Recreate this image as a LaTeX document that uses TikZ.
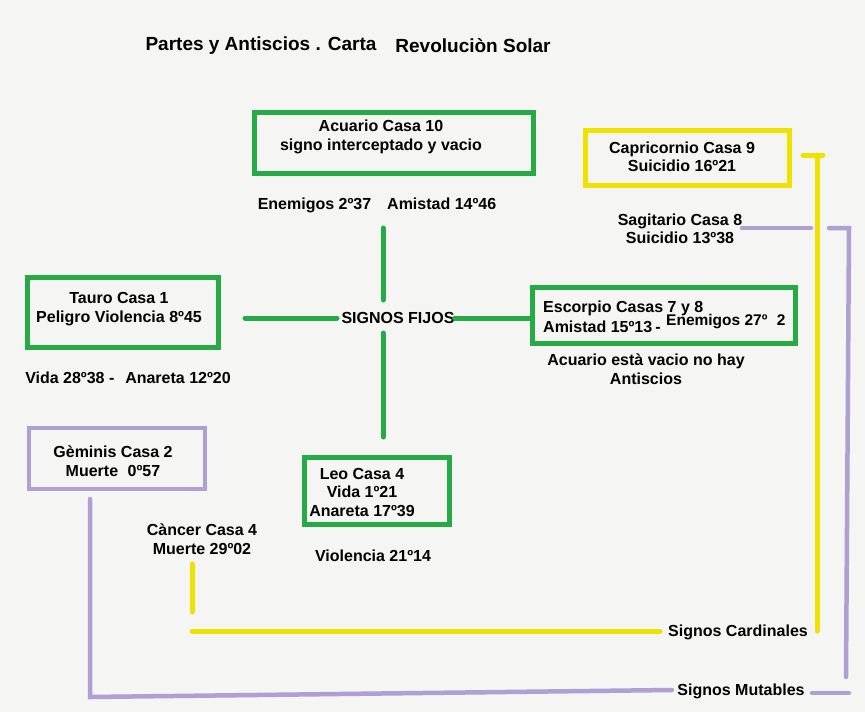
\documentclass[tikz,border=0pt]{standalone}
\usepackage{fontspec}
\setmainfont{Liberation Sans}
\definecolor{bgcol}{RGB}{245,245,243}
\definecolor{gcol}{RGB}{38,170,70}
\definecolor{ycol}{RGB}{240,226,0}
\definecolor{pcol}{RGB}{174,160,210}
\begin{document}
\begin{tikzpicture}[x=1pt,y=-1pt,
  txt/.style={font=\bfseries\fontsize{16}{18.5}\selectfont, align=center, inner sep=0pt, text=black},
  ttl/.style={font=\bfseries\fontsize{19}{22}\selectfont, inner sep=0pt},
  boxg/.style={draw=gcol, line width=5pt, inner sep=0pt},
  boxy/.style={draw=ycol, line width=5pt, inner sep=0pt},
  boxp/.style={draw=pcol, line width=4.5pt, inner sep=0pt},
  gline/.style={draw=gcol, line width=5pt, line cap=round},
  yline/.style={draw=ycol, line width=5pt, line cap=round},
  pline/.style={draw=pcol, line width=4.5pt, line cap=round}]
\fill[bgcol] (0,0) rectangle (865,712);
\useasboundingbox (0,0) rectangle (865,712);

% title
\node[ttl] (t1) at (261,46) {Partes y Antiscios . Carta};
\node[ttl] (t2) at (473,46) {Revoluciòn Solar};

% boxes
\node[boxg, minimum width=279pt, minimum height=61pt] (acuB) at (394,143) {};
\node[boxy, minimum width=204pt, minimum height=55pt] (capB) at (687.5,158) {};
\node[boxg, minimum width=191pt, minimum height=70pt] (tauB) at (123,312.5) {};
\node[boxg, minimum width=263pt, minimum height=56pt] (escB) at (664,315.5) {};
\node[boxp, minimum width=176pt, minimum height=61pt] (gemB) at (117,458.5) {};
\node[boxg, minimum width=145pt, minimum height=67pt] (leoB) at (377,491) {};

% texts
\node[txt] (acuT) at (381,137) {Acuario Casa 10\\signo interceptado y vacio};
\node[txt] (enem) at (377,205) {Enemigos 2º37\hspace{1em}Amistad 14º46};
\node[txt] (capT) at (682,157) {Capricornio Casa 9\\Suicidio 16º21};
\node[txt] (sagT) at (680,229) {Sagitario Casa 8\\Suicidio 13º38};
\node[txt] (tauT) at (119,309) {Tauro Casa 1\\Peligro Violencia 8º45};
\node[txt] (fijos) at (398,318) {SIGNOS FIJOS};
\node[txt, anchor=west] (escT1) at (543,308) {Escorpio Casas 7 y 8};
\node[txt, anchor=west] (escT2) at (543,327) {Amistad 15º13\hspace{0.2em}-};
\node[txt, anchor=west, font=\bfseries\fontsize{15.5}{18}\selectfont] (escT3) at (666,322) {Enemigos 27º\hspace{0.6em}2};
\node[txt] (vacio) at (646,369) {Acuario està vacio no hay\\Antiscios};
\node[txt] (vida) at (128,378) {Vida 28º38 -\hspace{0.4em} Anareta 12º20};
\node[txt] (gemT) at (113,461) {Gèminis Casa 2\\Muerte\hspace{0.6em}0º57};
\node[txt] (leoT) at (362,492) {Leo Casa 4\\Vida 1º21\\Anareta 17º39};
\node[txt] (canT) at (202,539) {Càncer Casa 4\\Muerte 29º02};
\node[txt] (viol) at (373,556) {Violencia 21º14};
\node[txt] (card) at (738,632) {Signos Cardinales};
\node[txt] (mut) at (741,691) {Signos Mutables};

% green cross
\coordinate (gT) at (383,228);
\coordinate (gT2) at (383,300);
\coordinate (gB1) at (383,333);
\coordinate (gB) at (383,437);
\coordinate (gL) at (245,318);
\coordinate (gL2) at (337,318);
\draw[gline] (gT) -- (gT2);
\draw[gline] (gB1) -- (gB);
\draw[gline] (gL) -- (gL2);
\draw[gline] (fijos.east) -- (fijos.east -| escB.west);

% yellow (cardinal)
\coordinate (yk1) at (803,155);
\coordinate (yk2) at (823,155);
\coordinate (yv1) at (817,155);
\coordinate (yv2) at (817,631);
\coordinate (yh1) at (192,631);
\coordinate (yh2) at (660,631);
\coordinate (yc1) at (192,564);
\coordinate (yc2) at (192,612);
\draw[yline] (yk1) -- (yk2);
\draw[yline] (yv1) -- (yv2);
\draw[yline] (yh1) -- (yh2);
\draw[yline] (yc1) -- (yc2);

% purple (mutable)
\coordinate (ps1) at (742,228);
\coordinate (ps2) at (811,228);
\coordinate (ps3) at (829,228);
\coordinate (ps4) at (849,228);
\coordinate (pv2) at (846,677);
\coordinate (pd1) at (812,693);
\coordinate (pd2) at (849,693);
\coordinate (pb1) at (90,697);
\coordinate (pb2) at (672,690);
\coordinate (pl1) at (90,499);
\draw[pline] (ps1) -- (ps2);
\draw[pline] (ps3) -- (ps4) -- (pv2);
\draw[pline] (pd1) -- (pd2);
\draw[pline] (pl1) -- (pb1) -- (pb2);
\end{tikzpicture}
\end{document}
